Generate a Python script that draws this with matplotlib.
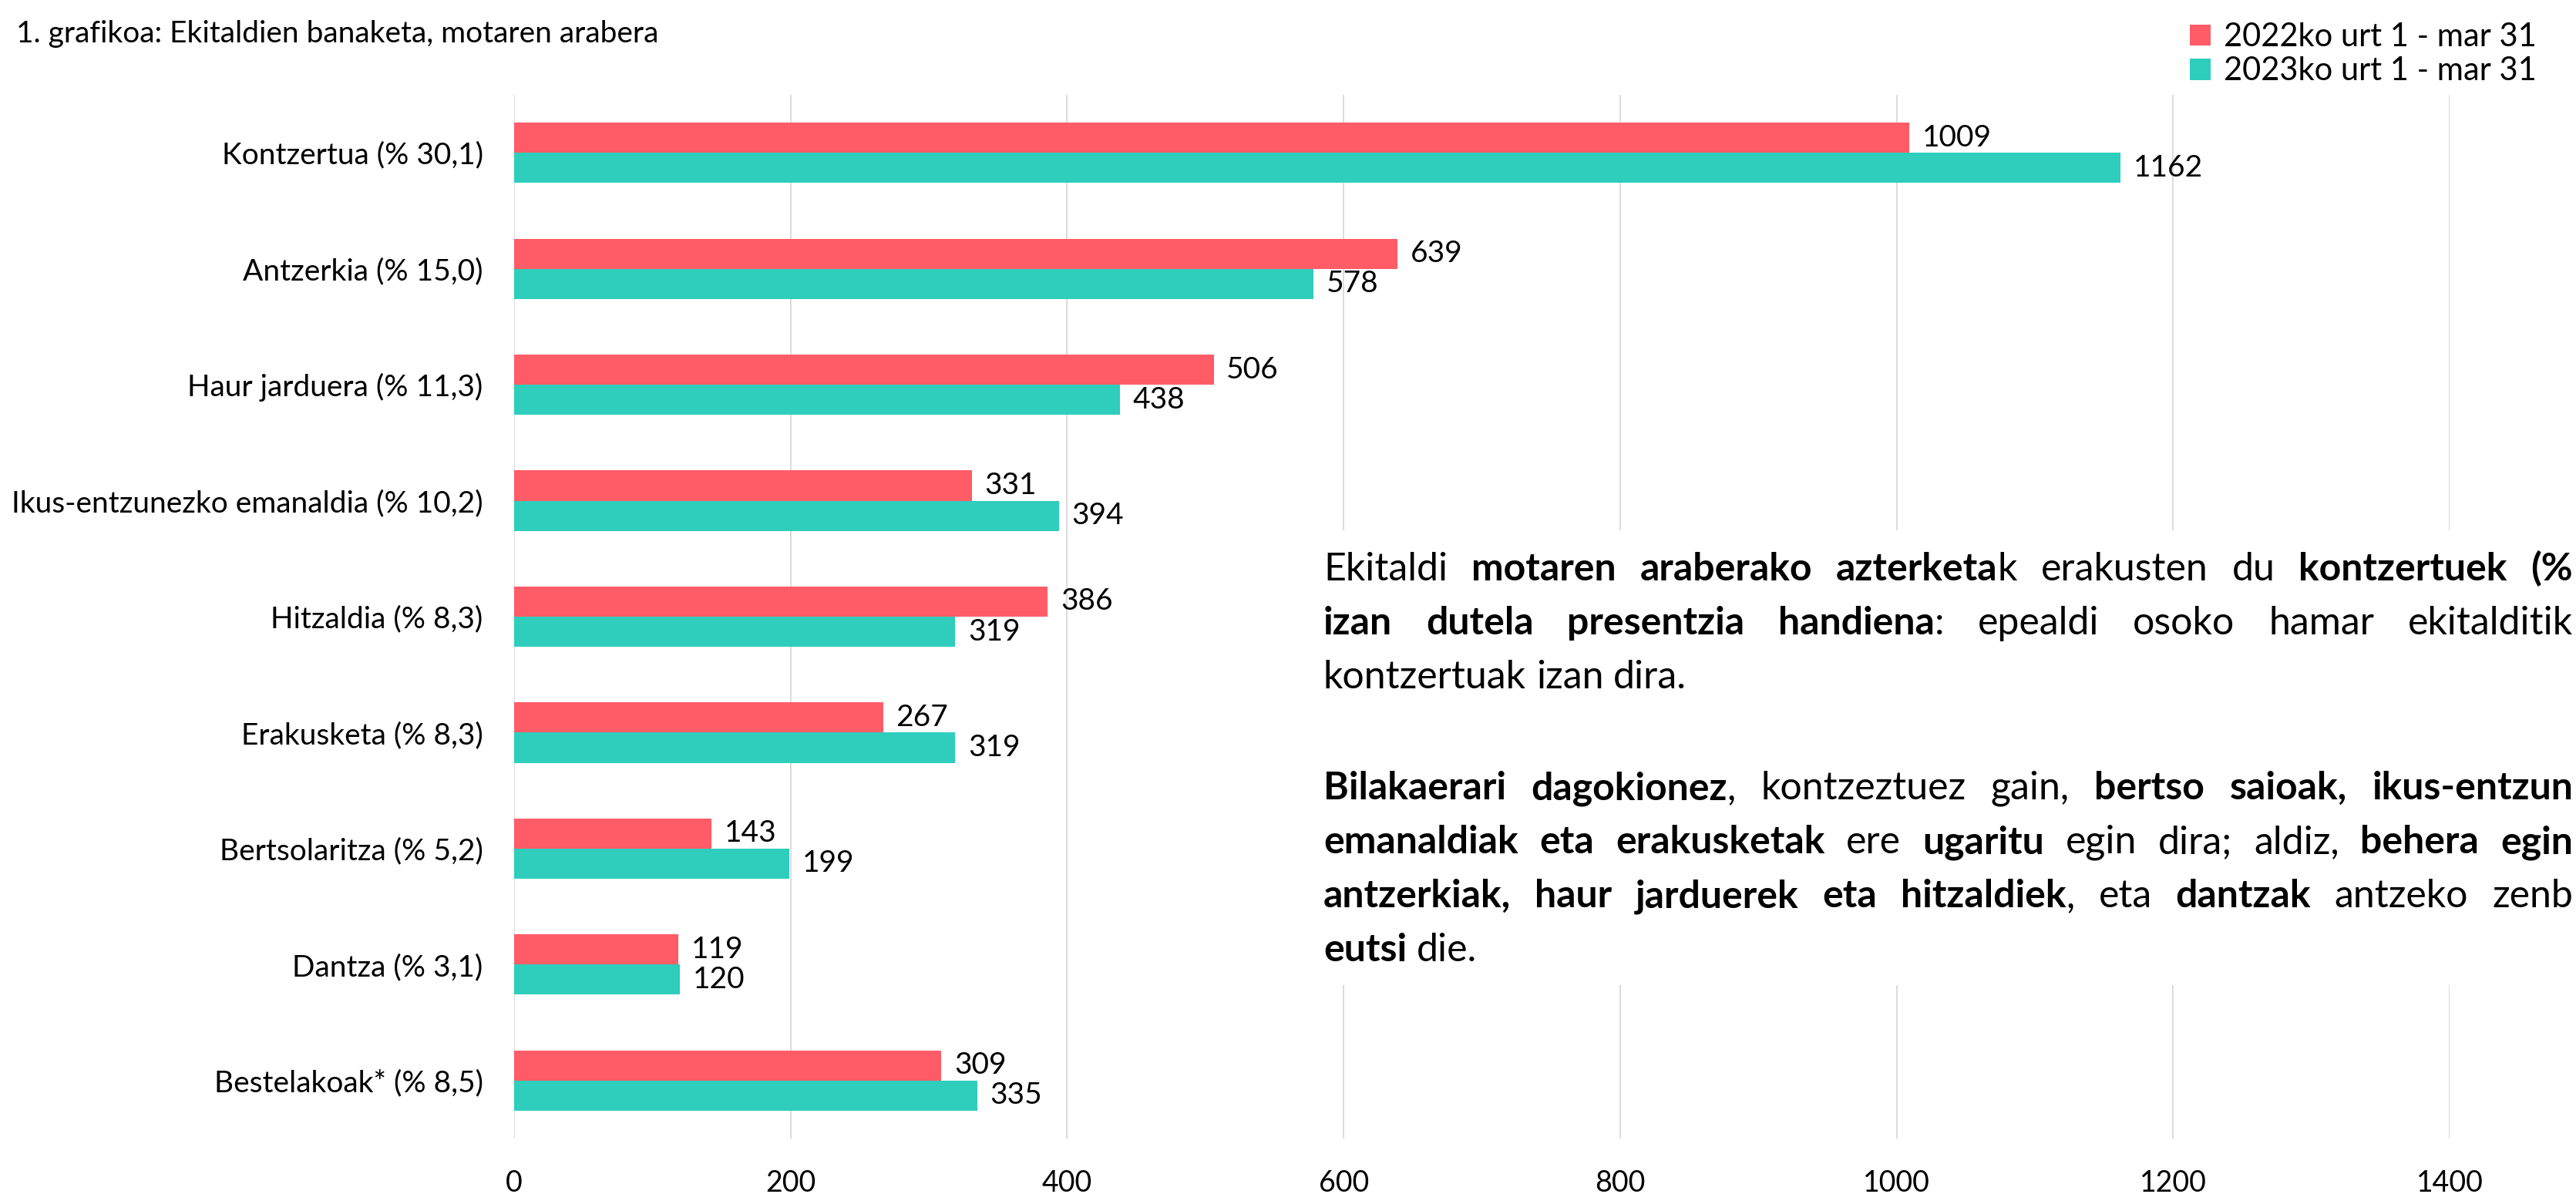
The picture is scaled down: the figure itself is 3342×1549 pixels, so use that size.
import matplotlib
matplotlib.use('Agg')
import matplotlib.pyplot as plt
from matplotlib.patches import Rectangle
import numpy as np

categories = ["Kontzertua (% 30,1)", "Antzerkia (% 15,0)", "Haur jarduera (% 11,3)",
              "Ikus-entzunezko emanaldia (% 10,2)", "Hitzaldia (% 8,3)", "Erakusketa (% 8,3)",
              "Bertsolaritza (% 5,2)", "Dantza (% 3,1)", "Bestelakoak* (% 8,5)"]
v2022 = [1009, 639, 506, 331, 386, 267, 143, 119, 309]
v2023 = [1162, 578, 438, 394, 319, 319, 199, 120, 335]
series = ["2022ko urt 1 - mar 31", "2023ko urt 1 - mar 31"]
xticks = [0, 200, 400, 600, 800, 1000, 1200, 1400]
title = "1. grafikoa: Ekitaldien banaketa, motaren arabera"

# testua: lerro bakoitza hitzen zerrenda, hitz bakoitza (zatia, lodia) zatiekin
para_lines = [
    [[("Ekitaldi", 0)], [("motaren", 1)], [("araberako", 1)], [("azterketa", 1), ("k", 0)],
     [("erakusten", 0)], [("du", 0)], [("kontzertuek", 1)], [("(%", 1)]],
    [[("izan", 1)], [("dutela", 1)], [("presentzia", 1)], [("handiena", 1), (":", 0)],
     [("epealdi", 0)], [("osoko", 0)], [("hamar", 0)], [("ekitalditik", 0)]],
    [[("kontzertuak", 0)], [("izan", 0)], [("dira.", 0)]],
    [[("Bilakaerari", 1)], [("dagokionez", 1), (",", 0)], [("kontzeztuez", 0)], [("gain,", 0)],
     [("bertso", 1)], [("saioak,", 1)], [("ikus-entzun", 1)]],
    [[("emanaldiak", 1)], [("eta", 1)], [("erakusketak", 1)], [("ere", 0)], [("ugaritu", 1)],
     [("egin", 0)], [("dira;", 0)], [("aldiz,", 0)], [("behera", 1)], [("egin", 1)]],
    [[("antzerkiak,", 1)], [("haur", 1)], [("jarduerek", 1)], [("eta", 1)], [("hitzaldiek", 1), (",", 0)],
     [("eta", 0)], [("dantzak", 1)], [("antzeko", 0)], [("zenb", 0)]],
    [[("eutsi", 1)], [("die.", 0)]],
]
justified = [True, True, False, True, True, True, False]
baselines = [753, 823, 893, 1037, 1107, 1177, 1247]

colors = ['#FF5C67', '#2ECDBC']
plt.rcParams['font.family'] = ['Lato', 'DejaVu Sans']

W, H = 3342, 1549
fig = plt.figure(figsize=(W / 100, H / 100), dpi=100)
ax = fig.add_axes([667 / W, 72 / H, (3178 - 667) / W, (1477 - 123) / H])

y = np.arange(len(categories))
h = 0.26
b1 = ax.barh(y - h / 2, v2022, height=h, color=colors[0], label=series[0])
b2 = ax.barh(y + h / 2, v2023, height=h, color=colors[1], label=series[1])
ax.set_ylim(len(categories) - 0.5, -0.5)
ax.set_xlim(0, 1400)
ax.set_xticks(xticks)
ax.set_yticks(y, categories)
ax.grid(axis='x', color='#D9D9D9', lw=1.3)
ax.set_axisbelow(True)
for s in ax.spines.values():
    s.set_visible(False)
ax.tick_params(axis='y', length=0, labelsize=28, pad=29)
ax.tick_params(axis='x', length=0, labelsize=27, pad=29)
for b in (b1, b2):
    ax.bar_label(b, padding=12, fontsize=28)

fig.text(21 / W, 1 - 55 / H, title, fontsize=28, va='baseline')

fig.legend(handles=[b1, b2], labels=series, loc='upper right', bbox_to_anchor=(3320 / W, 1.0),
           frameon=False, fontsize=30, handlelength=0.65, handleheight=0.65,
           handletextpad=0.4, labelspacing=0.15, borderaxespad=0.3)

# testu koadroaren atzealde zuria
fig.patches.append(Rectangle((1712 / W, 1 - 1278 / H), (W - 1712) / W, (1278 - 688) / H,
                             transform=fig.transFigure, facecolor='white', edgecolor='none', zorder=1))

fs = 36
renderer = fig.canvas.get_renderer()


def twidth(s, bold):
    t = fig.text(0, 0, s, fontsize=fs, fontweight='bold' if bold else 'normal')
    w = t.get_window_extent(renderer).width
    t.remove()
    return w


space = twidth("a a", 0) - twidth("aa", 0)
x0, x1 = 1717, W - 4
for words, just, bl in zip(para_lines, justified, baselines):
    wws = [sum(twidth(c, b) for c, b in wd) for wd in words]
    if just:
        gap = (x1 - x0 - sum(wws)) / (len(words) - 1)
    else:
        gap = space
    x = x0
    for wd, ww in zip(words, wws):
        cx = x
        for c, b in wd:
            fig.text(cx / W, 1 - bl / H, c, fontsize=fs, fontweight='bold' if b else 'normal',
                     va='baseline', zorder=2)
            cx += twidth(c, b)
        x += ww + gap

fig.savefig('out.png', dpi=100)
